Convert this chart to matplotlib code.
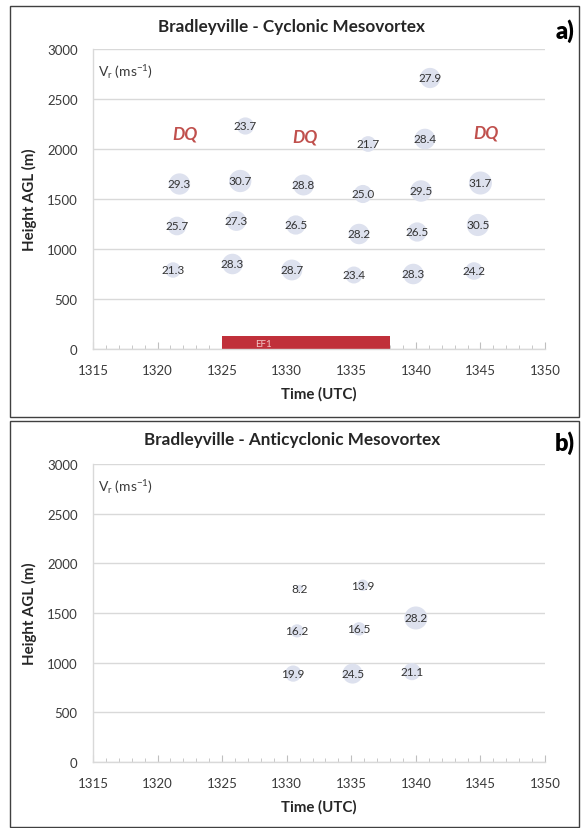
import matplotlib
matplotlib.use("Agg")
import matplotlib.pyplot as plt
from matplotlib.patches import Rectangle
from matplotlib.ticker import MultipleLocator
import numpy as np

plt.rcParams['font.family'] = ['Lato', 'DejaVu Sans']
plt.rcParams['mathtext.default'] = 'regular'

# Cyclonic mesovortex: time (UTC hhmm as minutes), height AGL (m), rotational velocity (m/s)
cyc_time = [1341.1, 1326.8, 1336.3, 1340.7,
            1321.7, 1326.4, 1331.3, 1335.9, 1340.4, 1345.0,
            1321.5, 1326.1, 1330.7, 1335.6, 1340.1, 1344.8,
            1321.2, 1325.8, 1330.4, 1335.2, 1339.8, 1344.5]
cyc_height = [2710, 2230, 2050, 2100,
              1650, 1680, 1640, 1550, 1580, 1660,
              1230, 1280, 1240, 1150, 1170, 1240,
              790, 850, 790, 740, 750, 780]
cyc_vr = [27.9, 23.7, 21.7, 28.4,
          29.3, 30.7, 28.8, 25.0, 29.5, 31.7,
          25.7, 27.3, 26.5, 28.2, 26.5, 30.5,
          21.3, 28.3, 28.7, 23.4, 28.3, 24.2]

# Data-quality flags (times/heights without a valid estimate)
dq_time = [1322.1, 1331.4, 1345.4]
dq_height = [2150, 2120, 2160]

# EF1 damage period
ef1_start, ef1_end, ef1_top = 1325, 1338, 130

# Anticyclonic mesovortex
anti_time = [1331.0, 1335.9, 1340.0, 1330.8, 1335.6, 1330.5, 1335.1, 1339.7]
anti_height = [1750, 1780, 1450, 1320, 1340, 890, 890, 910]
anti_vr = [8.2, 13.9, 28.2, 16.2, 16.5, 19.9, 24.5, 21.1]

W, H = 582, 829
fig = plt.figure(figsize=(W / 100, H / 100), dpi=100)
fig.patch.set_facecolor('white')


def fx(px):
    return px / W


def fy(py):
    return 1 - py / H


# Panel frames
for top, bot in [(7, 418), (422, 828)]:
    fig.add_artist(Rectangle((fx(10), fy(bot)), fx(569), (bot - top) / H,
                             transform=fig.transFigure, fill=False,
                             edgecolor='#404040', linewidth=1.0))

grid_c = '#d9d9d9'
text_c = '#3a3a3a'
bubble_c = '#dde1ee'
dq_c = '#c0504d'
max_d_px = 23.0


def style_axes(ax):
    ax.set_xlim(1315, 1350)
    ax.set_ylim(0, 3000)
    ax.xaxis.set_major_locator(MultipleLocator(5))
    ax.xaxis.set_minor_locator(MultipleLocator(1))
    ax.yaxis.set_major_locator(MultipleLocator(500))
    for s in ['top', 'right']:
        ax.spines[s].set_visible(False)
    for s in ['left', 'bottom']:
        ax.spines[s].set_color(grid_c)
        ax.spines[s].set_linewidth(1.0)
    ax.grid(axis='y', color=grid_c, linewidth=1.0, zorder=0)
    ax.set_axisbelow(True)
    ax.tick_params(axis='x', which='major', direction='in', length=5,
                   color='#bfbfbf', labelsize=9.5, labelcolor=text_c, pad=11)
    ax.tick_params(axis='x', which='minor', direction='in', length=3,
                   color='#bfbfbf')
    ax.tick_params(axis='y', which='both', length=0, labelsize=9.5,
                   labelcolor=text_c, pad=11)
    ax.set_xlabel('Time (UTC)', fontsize=10.8, fontweight='bold', color='#262626',
                  labelpad=7)
    ax.set_ylabel('Height AGL (m)', fontsize=10.8, fontweight='bold', color='#262626',
                  labelpad=7)
    ax.text(0.01, 0.925, 'V$_r$ (ms$^{-1}$)', transform=ax.transAxes,
            fontsize=10, color=text_c, va='center', ha='left')
    ax.set_facecolor('white')


def bubbles(ax, t, h, v):
    v = np.asarray(v, dtype=float)
    d_pt = max_d_px * v / v.max() * 0.72
    ax.scatter(t, h, s=d_pt ** 2, color=bubble_c, edgecolors='none', zorder=2,
               clip_on=False)
    for ti, hi, vi in zip(t, h, v):
        ax.text(ti, hi, f'{vi:.1f}', ha='center', va='center', fontsize=8.5,
                color='#333333', zorder=3)


# Panel a
ax1 = fig.add_axes([fx(93), fy(350), fx(452), 300 / H])
style_axes(ax1)
ax1.bar(ef1_start, ef1_top, width=ef1_end - ef1_start, align='edge',
        color='#c0303a', zorder=2)
ax1.text(ef1_start + 3.2, ef1_top * 0.42, 'EF1', ha='center', va='center',
         fontsize=7, color='#f2c8c8', zorder=3)
bubbles(ax1, cyc_time, cyc_height, cyc_vr)
for t, h in zip(dq_time, dq_height):
    ax1.text(t, h, 'DQ', ha='center', va='center', fontsize=12.5,
             fontweight='bold', fontstyle='italic', color=dq_c, zorder=3)

fig.text(fx(292), fy(27), 'Bradleyville - Cyclonic Mesovortex', ha='center',
         va='center', fontsize=12.3, fontweight='bold', color='#262626')
fig.text(fx(565), fy(31), 'a)', ha='center', va='center', fontsize=17,
         fontweight='heavy', color='black')

# Panel b
ax2 = fig.add_axes([fx(93), fy(763), fx(452), 298 / H])
style_axes(ax2)
bubbles(ax2, anti_time, anti_height, anti_vr)

fig.text(fx(292), fy(440), 'Bradleyville - Anticyclonic Mesovortex', ha='center',
         va='center', fontsize=12.3, fontweight='bold', color='#262626')
fig.text(fx(565), fy(443), 'b)', ha='center', va='center', fontsize=17,
         fontweight='heavy', color='black')

fig.savefig('out.png', dpi=100)
